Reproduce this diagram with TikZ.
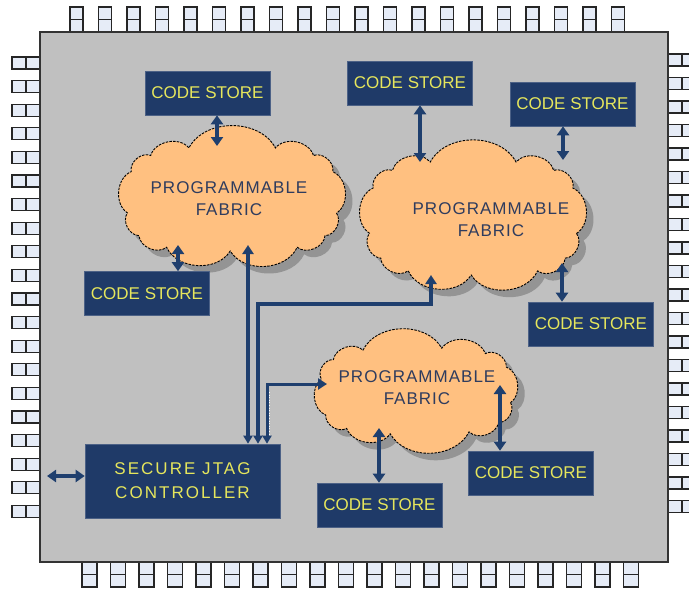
\documentclass[tikz,border=0pt]{standalone}
\usepackage{fontspec}
\setmainfont{Liberation Sans}
\usetikzlibrary{arrows.meta}
\definecolor{navy}{HTML}{1F3A68}
\definecolor{linecol}{HTML}{1F3F6E}
\definecolor{codetext}{HTML}{E6E65C}
\definecolor{chipgray}{HTML}{C0C0C0}
\definecolor{pinfill}{HTML}{E6ECF7}
\definecolor{cloudfill}{HTML}{FFC080}
\definecolor{cloudtext}{HTML}{2F3C5E}
% #1 cx, #2 cy, #3 a, #4 b, #5 number of puffs, #6 name
\newcommand\fabriccloud[6]{%
  \foreach \k in {0,...,#5}{%
    \pgfmathsetmacro\ang{360*\k/#5+7}%
    \pgfmathsetmacro\cc{cos(\ang)}%
    \pgfmathsetmacro\ss{sin(\ang)}%
    \pgfmathsetmacro\xx{#1+#3*sign(\cc)*(abs(\cc)+0.0001)^(0.62)}%
    \pgfmathsetmacro\yy{#2+#4*sign(\ss)*(abs(\ss)+0.0001)^(0.62)}%
    \coordinate (#6-\k) at (\xx,\yy);
  }%
  \fill[black!42] ([shift={(7,7)}]#6-0) \foreach \k in {1,...,#5}{ to[bend left=62] ([shift={(7,7)}]#6-\k)} -- cycle;
  \filldraw[fabric] (#6-0) \foreach \k in {1,...,#5}{ to[bend left=62] (#6-\k)} -- cycle;
  \coordinate (#6) at (#1,#2);
}
\begin{document}
\begin{tikzpicture}[x=1pt,y=-1pt,
 pin/.style={fill=pinfill,draw=black!85,line width=1.2pt},
 store/.style={fill=navy,draw=navy!80!white,line width=0.6pt,minimum width=125pt,minimum height=44pt,inner sep=0pt,text=codetext,font=\fontsize{17}{20}\selectfont},
 fabric/.style={fill=cloudfill,draw=black,line width=0.9pt,dash pattern=on 2.5pt off 1.2pt},
 ftext/.style={text=cloudtext,align=center,font=\fontsize{17}{22}\selectfont\addfontfeature{LetterSpace=6}},
 bus/.style={draw=linecol,line width=4pt},
 dbl/.style={bus,{Triangle[width=12pt,length=9pt]}-{Triangle[width=12pt,length=9pt]}},
 jdbl/.style={bus,{Triangle[width=11pt,length=9pt]}-{Triangle[width=9pt,length=8pt]}},
]
\useasboundingbox (0,0) rectangle (689,590);
\fill[white] (0,0) rectangle (689,590);
% pins
\foreach \i in {0,...,19}{
  \pgfmathsetmacro\px{70+28.5*\i}
  \draw[pin] (\px,7) rectangle ++(13,25);
  \draw[pin] (\px,19.5) -- ++(13,0);
  \pgfmathsetmacro\qx{82+28.5*\i}
  \draw[pin] (\qx,562) rectangle ++(15,25);
  \draw[pin] (\qx,574.5) -- ++(15,0);
  \pgfmathsetmacro\ly{57+23.6*\i}
  \draw[pin] (12,\ly) rectangle ++(28,12);
  \draw[pin] (26,\ly) -- ++(0,12);
  \pgfmathsetmacro\ry{54+23.5*\i}
  \draw[pin] (668,\ry) rectangle ++(32,12);
  \draw[pin] (682,\ry) -- ++(0,12);
}
% chip body
\draw[fill=chipgray,draw=black!80,line width=1.5pt] (40,32) rectangle (668,562);
% clouds
\fabriccloud{232}{199}{105}{52}{13}{c1}
\fabriccloud{473}{218}{104}{57}{13}{c2}
\fabriccloud{416}{391}{95}{43}{12}{c3}
\node[ftext] (t1) at (229,199) {PROGRAMMABLE\\FABRIC};
\node[ftext] (t2) at (491,220) {PROGRAMMABLE\\FABRIC};
\node[ftext] (t3) at (417,388) {PROGRAMMABLE\\FABRIC};
% code stores
\node[store] (s1) at (207.5,93) {CODE STORE};
\node[store] (s2) at (410,83) {CODE STORE};
\node[store] (s3) at (572.5,104) {CODE STORE};
\node[store] (s4) at (147,293.5) {CODE STORE};
\node[store] (s5) at (591,324) {CODE STORE};
\node[store] (s6) at (531,473) {CODE STORE};
\node[store] (s7) at (379.5,505) {CODE STORE};
\node[store,minimum width=195pt,minimum height=74pt,align=center,font=\fontsize{17}{24}\selectfont\addfontfeature{LetterSpace=12}] (jt) at (182.5,481) {SECURE JTAG\\CONTROLLER};
% connector end points
\coordinate (a1) at (217,146);
\coordinate (a2) at (420,162);
\coordinate (a3) at (563,160);
\coordinate (a4) at (178,245);
\coordinate (a5) at (562,263);
\coordinate (a6) at (379,428);
\coordinate (a7) at (500,385);
\coordinate (pinL) at (47,476);
\coordinate (j1) at (248,245);
\coordinate (j2) at (431,275);
\coordinate (j3) at (327,384);
% connectors
\draw[dbl] (s1.south -| a1) -- (a1);
\draw[dbl] (s2.south -| a2) -- (a2);
\draw[dbl] (s3.south -| a3) -- (a3);
\draw[dbl] (s4.north -| a4) -- (a4);
\draw[dbl] (s5.north -| a5) -- (a5);
\draw[dbl] (s7.north -| a6) -- (a6);
\draw[dbl] (s6.north -| a7) -- (a7);
\draw[dbl] (jt.west |- pinL) -- (pinL);
\draw[jdbl] (j1) -- (jt.north -| j1);
\draw[jdbl] (j2) -- (431,304) -- (258,304) -- (jt.north -| 258,0);
\draw[jdbl,line width=3pt] (j3) -- (267,384) -- (jt.north -| 267,0);
\draw[white,dotted,line width=0.6pt] (269.3,392) -- (269.3,436);
\end{tikzpicture}
\end{document}
